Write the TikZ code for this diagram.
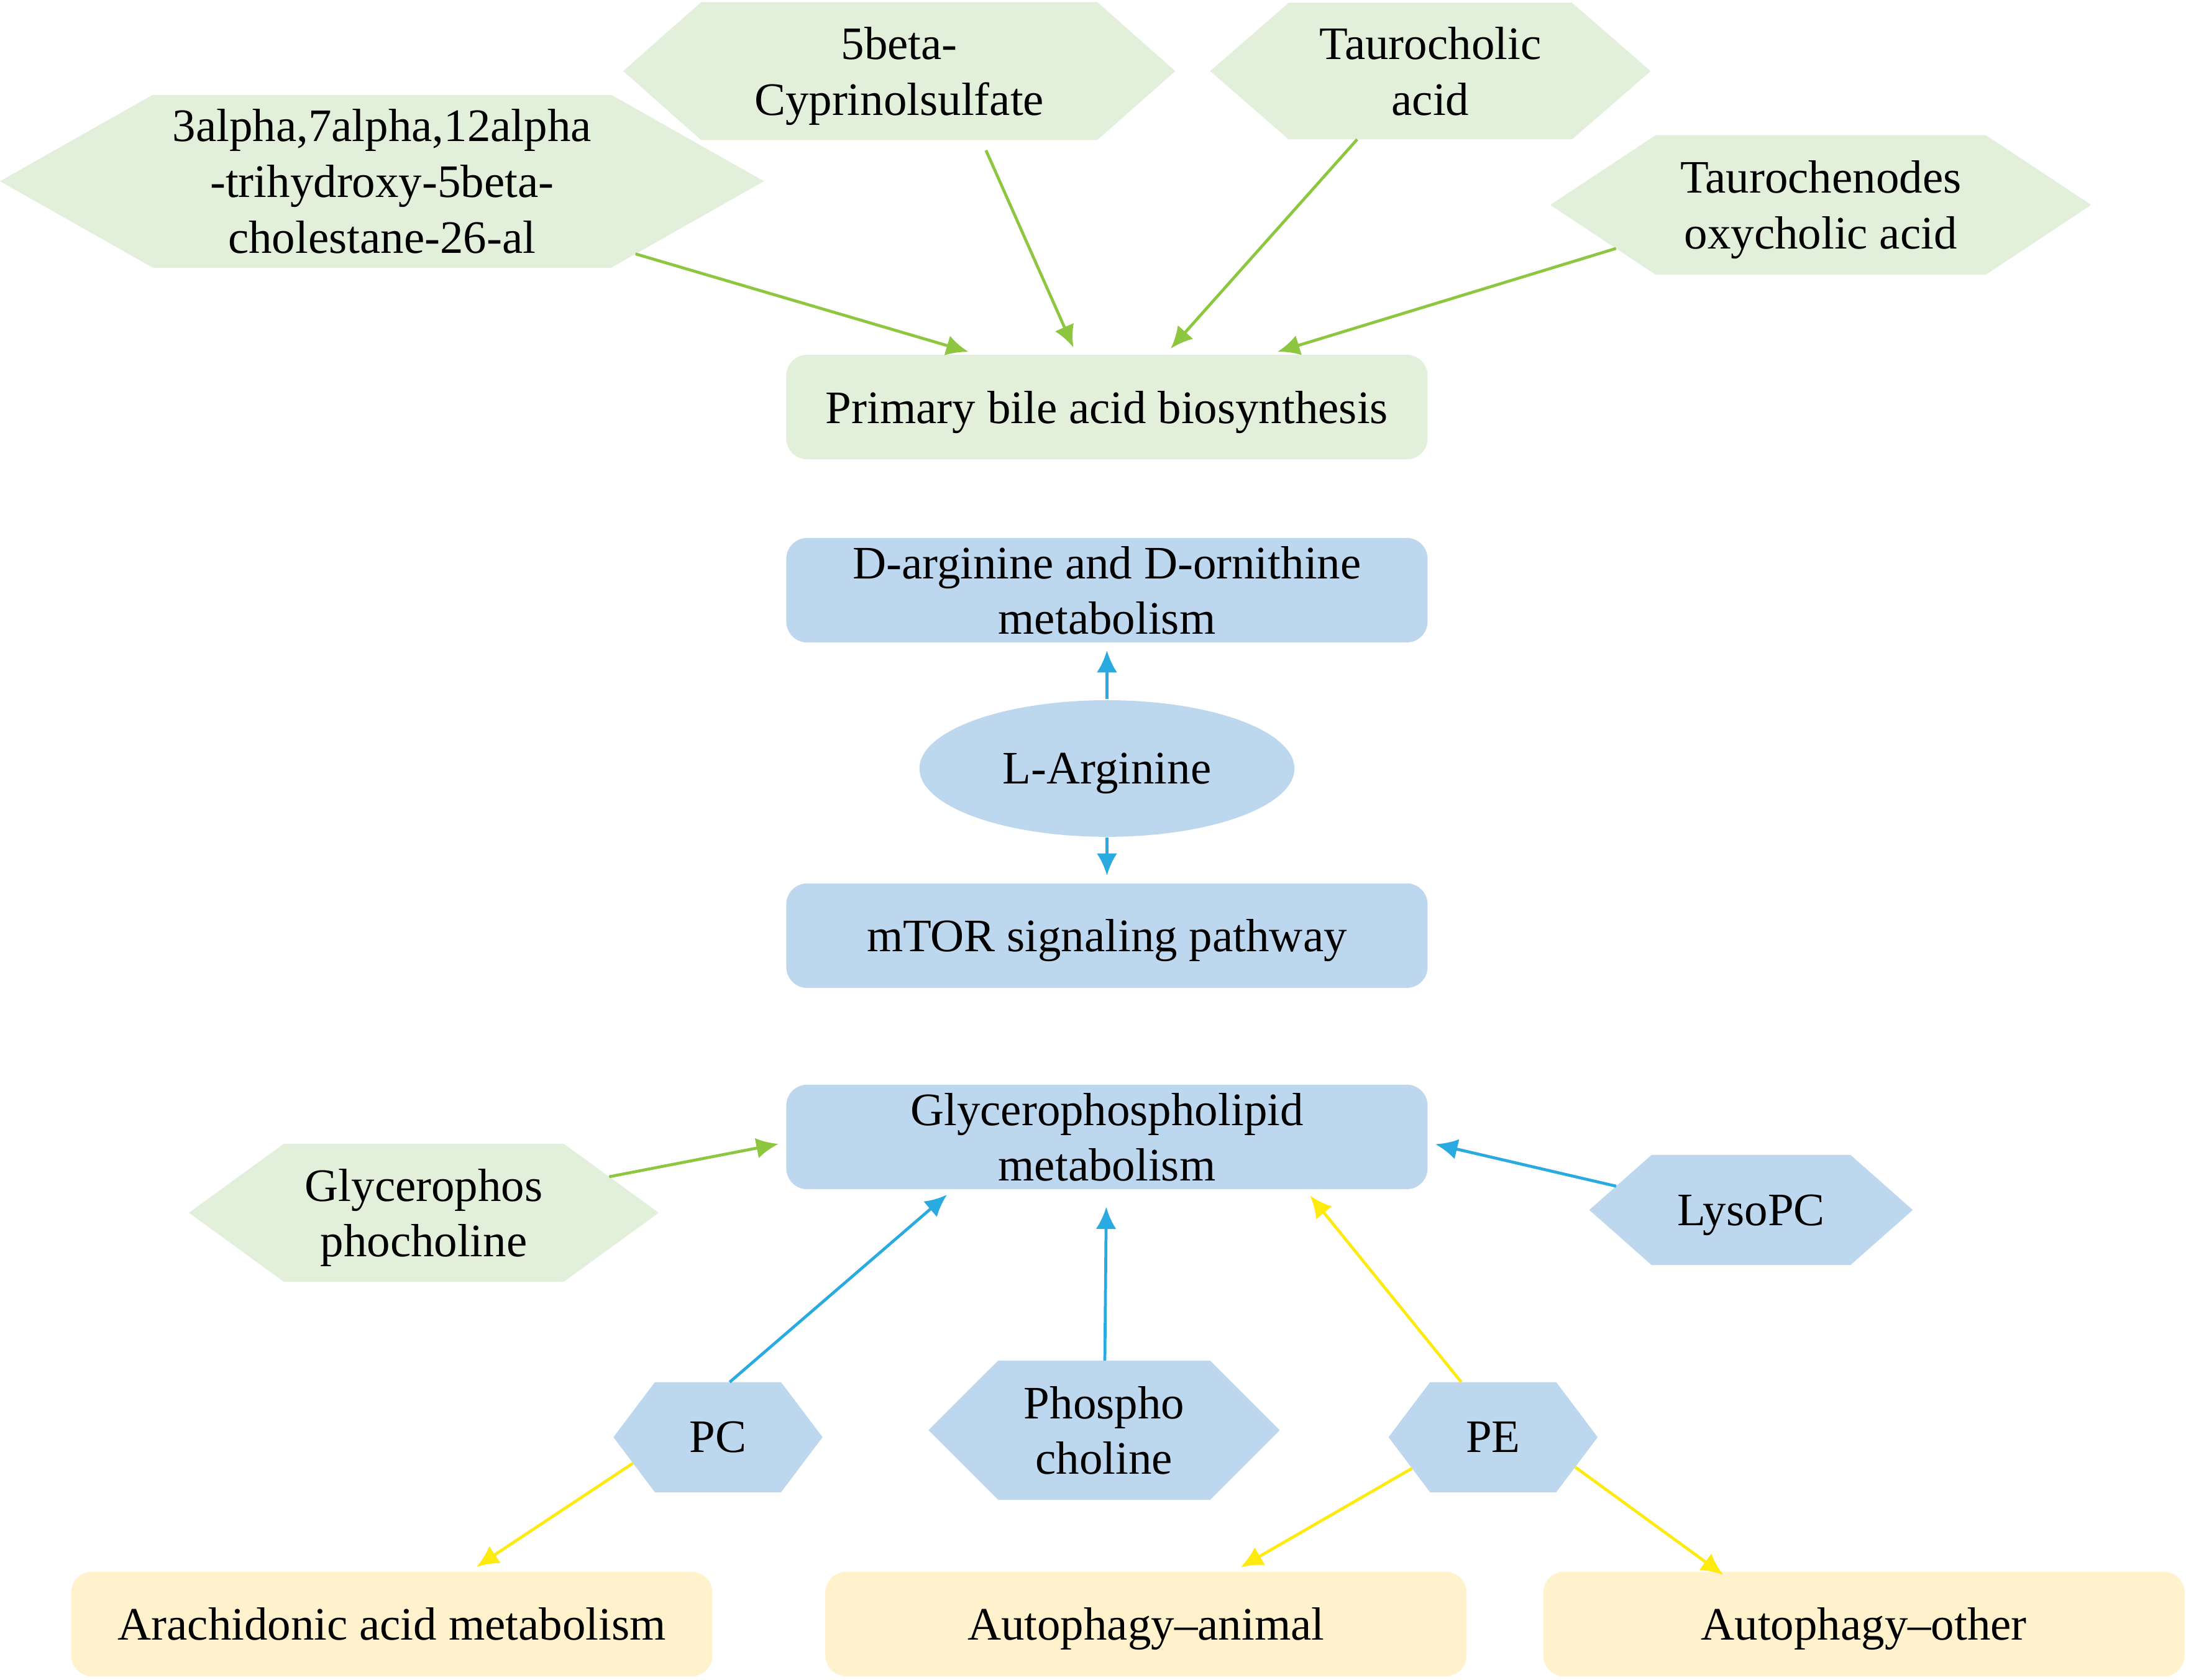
\documentclass[tikz,border=0pt]{standalone}
\usepackage{fontspec}
\setmainfont{Liberation Serif}
\usetikzlibrary{shapes.geometric,shapes.symbols,arrows.meta,positioning}

\definecolor{leafgreen}{HTML}{E2EFDA}
\definecolor{skyblue}{HTML}{BDD7EE}
\definecolor{cream}{HTML}{FFF2CC}
\definecolor{arrowgreen}{HTML}{8DC63F}
\definecolor{arrowblue}{HTML}{29ABE2}
\definecolor{arrowyellow}{HTML}{FFEA0F}

\begin{document}
\begin{tikzpicture}
	[x=0.1mm,y=-0.1mm,
	 font=\fontsize{9.5}{11.4}\selectfont,
	 pathbox/.style={rectangle, rounded corners=1.5mm, minimum width=46mm, minimum height=7.5mm, align=center, inner sep=1pt, text depth=0pt},
	 greenbox/.style={pathbox, fill=leafgreen},
	 bluebox/.style={pathbox, fill=skyblue},
	 creambox/.style={pathbox, fill=cream},
	 hexnode/.style={signal, signal to=west and east, align=center, inner sep=1pt, outer sep=0pt, text depth=0pt},
	 greenhex/.style={hexnode, fill=leafgreen},
	 bluehex/.style={hexnode, fill=skyblue},
	 link/.style={-{Latex[length=4.5pt,width=4.2pt]}, line width=0.6pt, shorten >=0.5mm},
	 greenlink/.style={link, draw=arrowgreen},
	 bluelink/.style={link, draw=arrowblue},
	 yellowlink/.style={link, draw=arrowyellow},
	]

	\useasboundingbox (0,0) rectangle (1568,1205);

	% bile acid branch
	\node[greenhex, minimum width=54.8mm, minimum height=12.4mm, signal pointer angle=59] (trihydroxy) at (274,130) {3alpha,7alpha,12alpha\\-trihydroxy-5beta-\\cholestane-26-al};
	\node[greenhex, minimum width=39.6mm, minimum height=9.9mm, signal pointer angle=83] (cyprinol) at (645,51) {5beta-\\Cyprinolsulfate};
	\node[greenhex, minimum width=31.6mm, minimum height=9.8mm, signal pointer angle=82] (taurocholic) at (1026,51) {Taurocholic\\acid};
	\node[greenhex, minimum width=38.8mm, minimum height=10mm, signal pointer angle=67] (taurocheno) at (1306,147) {Taurochenodes\\oxycholic acid};

	\node[greenbox] (bile) at (794,292) {Primary bile acid biosynthesis};

	% arginine branch
	\node[bluebox] (darginine) [below=5.5mm of bile] {D-arginine and D-ornithine\\metabolism};
	\node[ellipse, fill=skyblue, minimum width=26.9mm, minimum height=9.8mm, inner sep=1pt, text depth=0pt] (larginine) [below=4mm of darginine] {L-Arginine};
	\node[bluebox] (mtor) [below=3.2mm of larginine] {mTOR signaling pathway};

	% glycerophospholipid branch
	\node[bluebox] (glycero) [below=6.8mm of mtor] {Glycerophospholipid\\metabolism};
	\node[greenhex, minimum width=33.7mm, minimum height=9.9mm, signal pointer angle=72] (gpc) at (304,870) {Glycerophos\\phocholine};
	\node[bluehex, minimum width=23.2mm, minimum height=7.9mm, signal pointer angle=83] (lysopc) at (1256,868) {LysoPC};
	\node[bluehex, minimum width=15mm, minimum height=7.9mm, signal pointer angle=106] (pc) at (515,1031) {PC};
	\node[bluehex, minimum width=25.2mm, minimum height=10mm, signal pointer angle=90] (phospho) at (792,1026) {Phospho\\choline};
	\node[bluehex, minimum width=15mm, minimum height=7.9mm, signal pointer angle=106] (pe) at (1071,1031) {PE};

	\node[creambox] (arachidonic) at (281,1165) {Arachidonic acid metabolism};
	\node[creambox] (autoanimal) at (822,1165) {Autophagy--animal};
	\node[creambox] (autoother) at (1337,1165) {Autophagy--other};

	% connectors
	\draw[greenlink] (trihydroxy.-16) -- (bile.158);
	\draw[greenlink, shorten <=0.8mm] (cyprinol.-40) -- (bile.120);
	\draw[greenlink] (taurocholic.223) -- (bile.42);
	\draw[greenlink] (taurocheno.192) -- (bile.18);

	\draw[bluelink] (larginine) -- (darginine);
	\draw[bluelink] (larginine) -- (mtor);

	\draw[greenlink] (gpc.11) -- (glycero.181);
	\draw[bluelink] (lysopc.170) -- (glycero.-1);
	\draw[bluelink] (pc.78) -- (glycero.199);
	\draw[bluelink, shorten >=1.2mm] (phospho) -- (glycero);
	\draw[yellowlink] (pe.120) -- (glycero.-15);

	\draw[yellowlink] (pc.197) -- (arachidonic.34);
	\draw[yellowlink] (pe.201) -- (autoanimal.31);
	\draw[yellowlink, shorten >=-0.5mm] (pe.-20) -- (autoother.160);

\end{tikzpicture}
\end{document}
